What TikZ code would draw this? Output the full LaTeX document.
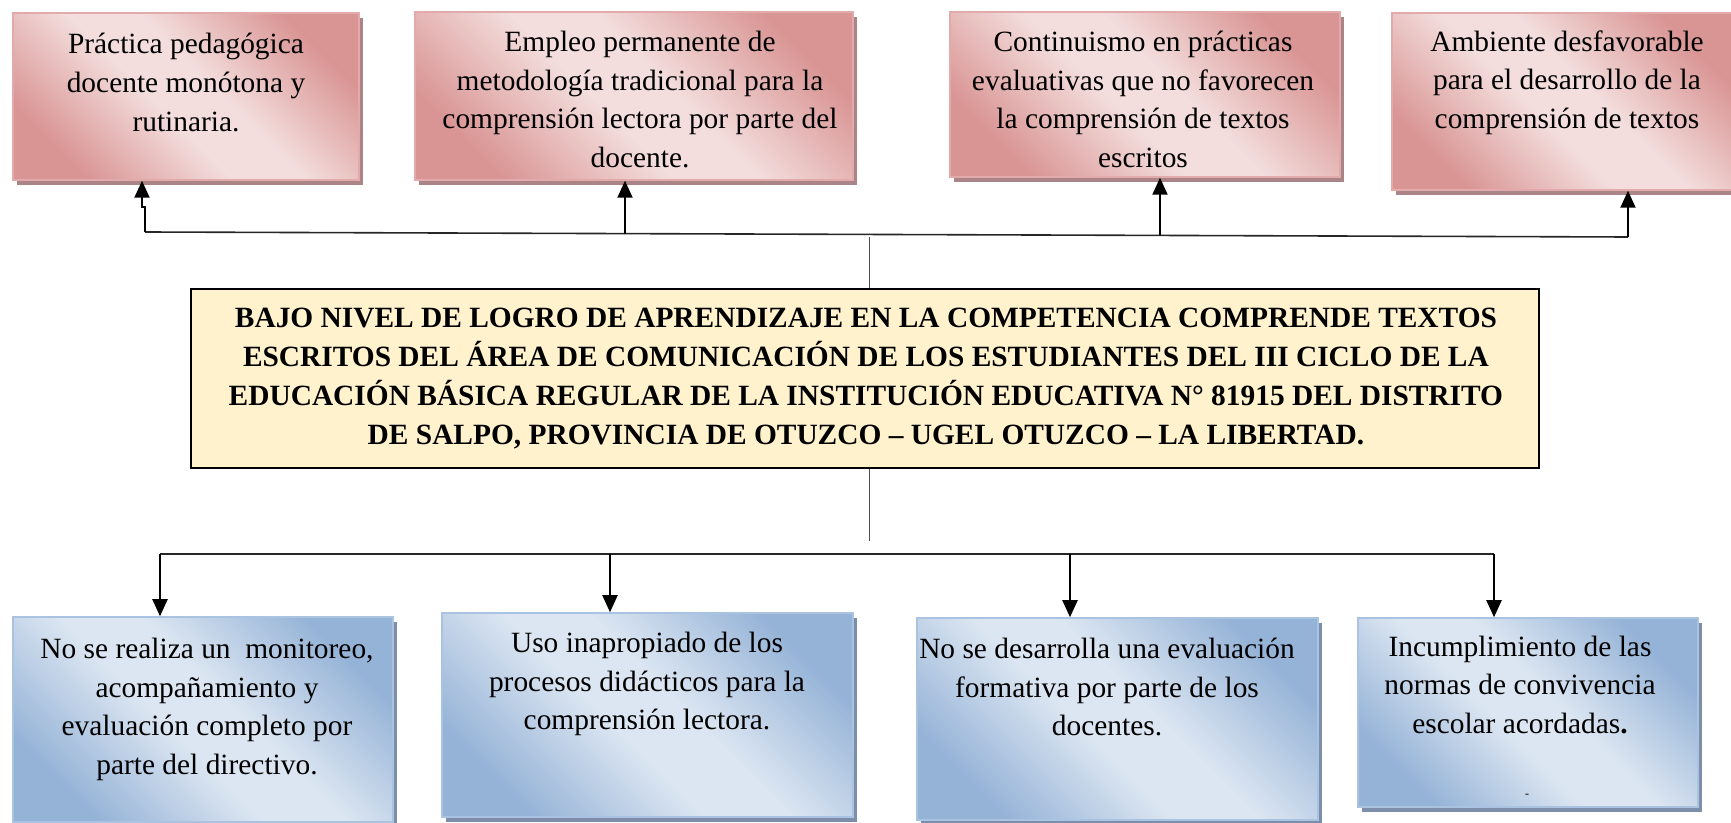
\documentclass[tikz,border=0pt]{standalone}
\usepackage{fontspec}
\setmainfont{Liberation Serif}
\usetikzlibrary{arrows.meta,shadows}
\definecolor{rdark}{RGB}{217,149,148}
\definecolor{rlight}{RGB}{243,222,221}
\definecolor{rborder}{RGB}{226,170,170}
\definecolor{rshadow}{RGB}{170,132,134}
\definecolor{bdark}{RGB}{149,179,215}
\definecolor{blight}{RGB}{220,230,242}
\definecolor{bborder}{RGB}{170,195,225}
\definecolor{bshadow}{RGB}{125,142,170}
\definecolor{mainfill}{RGB}{255,242,204}
\pgfdeclarehorizontalshading{redmirror}{100bp}{color(0bp)=(rdark); color(25bp)=(rdark); color(45bp)=(rlight); color(55bp)=(rlight); color(75bp)=(rdark); color(100bp)=(rdark)}
\pgfdeclarehorizontalshading{bluemirror}{100bp}{color(0bp)=(bdark); color(25bp)=(bdark); color(45bp)=(blight); color(55bp)=(blight); color(75bp)=(bdark); color(100bp)=(bdark)}
\tikzset{
  causebox/.style={draw=rborder, line width=0.75pt, inner sep=0pt, shading=redmirror, shading angle=45,
    drop shadow={shadow xshift=2pt, shadow yshift=-2.5pt, fill=rshadow, opacity=1}},
  effbox/.style={draw=bborder, line width=0.75pt, inner sep=0pt, shading=bluemirror, shading angle=45,
    drop shadow={shadow xshift=2pt, shadow yshift=-2.5pt, fill=bshadow, opacity=1}},
  mainbox/.style={draw=black, line width=1pt, fill=mainfill, inner sep=0pt},
  txt/.style={align=center, inner sep=0pt, font=\fontsize{14.7}{19.3}\selectfont},
  maintxt/.style={align=center, inner sep=0pt, font=\bfseries\fontsize{14.7}{19.5}\selectfont},
  arr/.style={-{Triangle[width=7.5pt,length=8.5pt]}, line width=1pt, draw=black},
  bus/.style={line width=0.8pt, draw=black!85},
  stem/.style={line width=0.5pt, draw=black!70}
}
\begin{document}
\begin{tikzpicture}[x=0.5pt,y=-0.5pt]
\useasboundingbox (0,0) rectangle (1731,823);
% top boxes
\node[causebox, minimum width=173pt, minimum height=83.5pt] (t1) at (186,96.5) {};
\node[causebox, minimum width=219pt, minimum height=84pt] (t2) at (634,96) {};
\node[causebox, minimum width=195pt, minimum height=82.5pt] (t3) at (1145,94.5) {};
\node[causebox, minimum width=172pt, minimum height=88.5pt] (t4) at (1564,101.5) {};
\node[txt] (t1txt) at (186,82.5) {Práctica pedagógica\\docente monótona y\\rutinaria.};
\node[txt] (t2txt) at (640,99.5) {Empleo permanente de\\metodología tradicional para la\\comprensión lectora por parte del\\docente.};
\node[txt] (t3txt) at (1143,99.5) {Continuismo en prácticas\\evaluativas que no favorecen\\la comprensión de textos\\escritos};
\node[txt] (t4txt) at (1567,82.5) {Ambiente desfavorable\\para el desarrollo de la\\comprensión de textos};
% main box
\node[mainbox, minimum width=674pt, minimum height=89.5pt] (main) at (865,378.5) {};
\node[maintxt] (maintext) at (866,378.5) {BAJO NIVEL DE LOGRO DE APRENDIZAJE EN LA COMPETENCIA COMPRENDE TEXTOS\\ESCRITOS DEL ÁREA DE COMUNICACIÓN DE LOS ESTUDIANTES DEL III CICLO DE LA\\EDUCACIÓN BÁSICA REGULAR DE LA INSTITUCIÓN EDUCATIVA N° 81915 DEL DISTRITO\\DE SALPO, PROVINCIA DE OTUZCO – UGEL OTUZCO – LA LIBERTAD.};
% bottom boxes
\node[effbox, minimum width=190pt, minimum height=102.5pt] (b1) at (203,719.5) {};
\node[effbox, minimum width=205.5pt, minimum height=102pt] (b2) at (647.5,715) {};
\node[effbox, minimum width=200.5pt, minimum height=101pt] (b3) at (1117.5,719) {};
\node[effbox, minimum width=170pt, minimum height=94.5pt] (b4) at (1528,712.5) {};
\node[txt] (b1txt) at (207,709.5) {No se realiza un~ monitoreo,\\acompañamiento y\\evaluación completo por\\parte del directivo.};
\node[txt] (b2txt) at (647,684) {Uso inapropiado de los\\procesos didácticos para la\\comprensión lectora.};
\node[txt] (b3txt) at (1107,687) {No se desarrolla una evaluación\\formativa por parte de los\\docentes.};
\node[txt] (b4txt) at (1520,685) {Incumplimiento de las\\normas de convivencia\\escolar acordadas\textbf{.}};
\node[inner sep=0pt, font=\fontsize{6}{6}\selectfont] (b4dot) at (1527,796) {-};
% top connectors
\coordinate (ta1) at (145,232);
\coordinate (jog1) at (145,207);
\coordinate (jog2) at (142,207);
\coordinate (ta2) at (625,233.6);
\coordinate (ta3) at (1160,235.4);
\coordinate (ta4) at (1628,237);
\coordinate (ctop) at (869,237);
\draw[bus] (ta1) -- (ta4);
\draw[stem] (main.north -| ctop) -- (ctop);
\draw[arr] (ta1) -- (jog1) -- (jog2) -- (jog2 |- t1.south);
\draw[arr] (ta2) -- (ta2 |- t2.south);
\draw[arr] (ta3) -- (ta3 |- t3.south);
\draw[arr] (ta4) -- (ta4 |- t4.south);
% bottom connectors
\coordinate (ba1) at (160,554);
\coordinate (ba2) at (610,554);
\coordinate (ba3) at (1070,554);
\coordinate (ba4) at (1494,554);
\coordinate (cbot) at (869,541);
\draw[stem] (main.south -| cbot) -- (cbot);
\draw[bus] (ba1) -- (ba4);
\draw[arr] (ba1) -- (ba1 |- b1.north);
\draw[arr] (ba2) -- (ba2 |- b2.north);
\draw[arr] (ba3) -- (ba3 |- b3.north);
\draw[arr] (ba4) -- (ba4 |- b4.north);
\end{tikzpicture}
\end{document}
